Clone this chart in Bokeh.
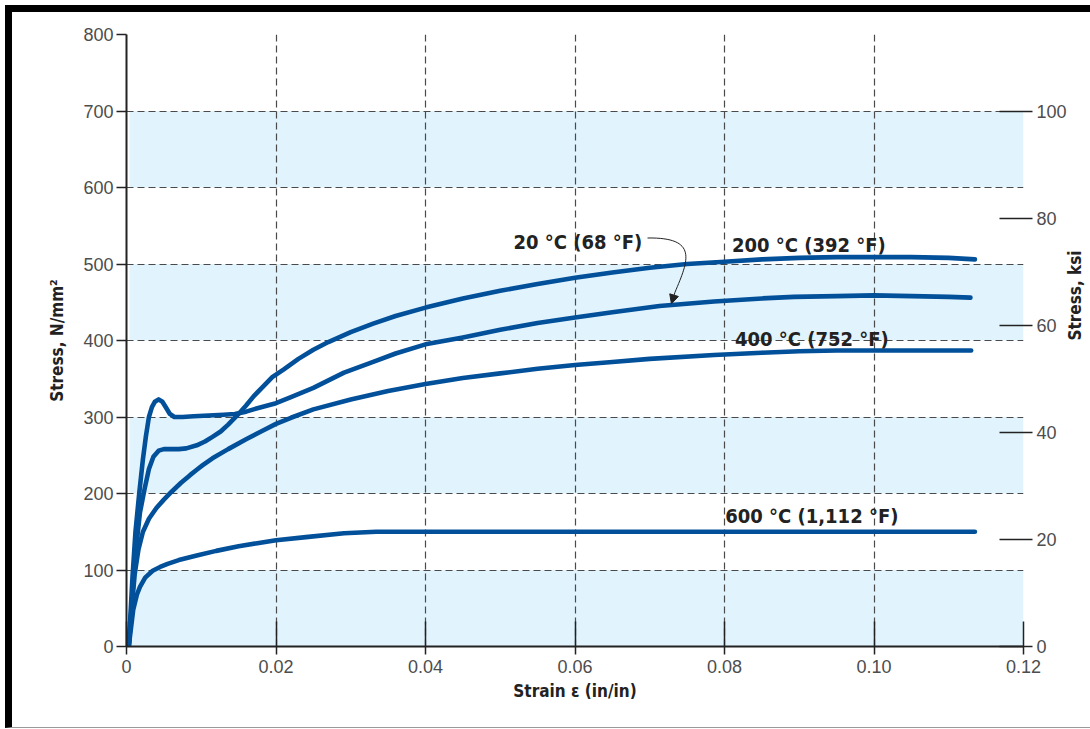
import math
from bokeh.plotting import figure
from bokeh.models import Range1d, LinearAxis, FixedTicker, Label, Arrow, NormalHead
from bokeh.embed import file_html
from bokeh.resources import INLINE

# ---------------- data ----------------
x_ticks = [0, 0.02, 0.04, 0.06, 0.08, 0.10, 0.12]
x_tick_labels = ["0", "0.02", "0.04", "0.06", "0.08", "0.10", "0.12"]
y_ticks = [0, 100, 200, 300, 400, 500, 600, 700, 800]
ksi_ticks = [0, 20, 40, 60, 80, 100]
ksi_top = 114.3          # right axis value at the top of the frame (800 N/mm2)

band_bottoms = [0, 200, 400, 600]
band_tops = [100, 300, 500, 700]

strain_20 = [0.0003, 0.0008, 0.0012, 0.0017, 0.0022, 0.0026, 0.0030, 0.0034, 0.0038, 0.0043,
             0.0048, 0.0053, 0.0058, 0.0064, 0.0075, 0.0090, 0.0110, 0.0130, 0.0145, 0.0160,
             0.0170, 0.0185, 0.0200, 0.0220, 0.0250, 0.0291, 0.0330, 0.0360, 0.0400, 0.0450,
             0.0500, 0.0550, 0.0600, 0.0650, 0.0713, 0.0786, 0.0850, 0.0893, 0.0950, 0.1000,
             0.1050, 0.1100, 0.1129]
stress_20 = [0, 90, 150, 200, 245, 275, 300, 313, 320, 323,
             320, 312, 304, 300, 300, 301, 302, 303, 304, 307,
             310, 314, 318, 326, 338, 358, 372, 383, 395, 404,
             414, 423, 430, 437, 445, 451, 455, 457, 458, 459,
             458, 457, 456]

strain_200 = [0.0003, 0.0008, 0.0013, 0.0018, 0.0024, 0.0030, 0.0036, 0.0043, 0.0050, 0.0060,
              0.0070, 0.0080, 0.0094, 0.0105, 0.0115, 0.0126, 0.0136, 0.0149, 0.0160, 0.0170,
              0.0183, 0.0195, 0.0210, 0.0230, 0.0250, 0.0270, 0.0300, 0.0330, 0.0360, 0.0400,
              0.0450, 0.0500, 0.0550, 0.0600, 0.0650, 0.0700, 0.0750, 0.0800, 0.0850, 0.0900,
              0.0950, 0.1000, 0.1050, 0.1100, 0.1135]
stress_200 = [0, 70, 130, 175, 205, 232, 248, 256, 258, 258,
              258, 259, 263, 268, 274, 281, 290, 303, 315, 327,
              340, 352, 362, 376, 388, 398, 411, 422, 432, 443,
              455, 465, 474, 482, 489, 495, 500, 503, 506, 508,
              509, 509, 509, 508, 506]

strain_400 = [0.0003, 0.0007, 0.0011, 0.0016, 0.0022, 0.0030, 0.0040, 0.0050, 0.0060, 0.0073,
              0.0085, 0.0094, 0.0102, 0.0115, 0.0136, 0.0160, 0.0180, 0.0200, 0.0220, 0.0250,
              0.0300, 0.0350, 0.0400, 0.0450, 0.0500, 0.0550, 0.0600, 0.0650, 0.0700, 0.0786,
              0.0850, 0.0900, 0.0950, 0.1000, 0.1050, 0.1100, 0.1130]
stress_400 = [0, 50, 95, 127, 150, 167, 181, 192, 202, 214,
              224, 231, 237, 246, 258, 271, 281, 291, 299, 310,
              323, 334, 343, 351, 357, 363, 368, 372, 376, 381,
              384, 386, 387, 387, 387, 387, 387]

strain_600 = [0.0003, 0.0009, 0.0014, 0.0018, 0.0025, 0.0035, 0.0045, 0.0055, 0.0070, 0.0094,
              0.0120, 0.0150, 0.0175, 0.0200, 0.0240, 0.0291, 0.0334, 0.0400, 0.0600, 0.0800,
              0.1000, 0.1135]
stress_600 = [0, 48, 68, 78, 90, 99, 104, 108, 113, 119,
              125, 131, 135, 139, 143, 148, 150, 150, 150, 150,
              150, 150]

# ---------------- styles ----------------
CURVE = "#02509a"
BAND = "#e1f3fd"
GRID = "#4a4a4a"
BOLD_FONT = "Liberation Sans Narrow, DejaVu Sans Condensed, sans-serif"
TICK_FONT = "Liberation Sans, Arial, sans-serif"

p = figure(width=1078, height=715,
           x_range=Range1d(0, 0.12), y_range=Range1d(0, 800),
           output_backend="svg", toolbar_location=None,
           min_border_left=114, min_border_right=69,
           min_border_top=22, min_border_bottom=89)
p.outline_line_color = None
p.background_fill_color = "white"
p.border_fill_color = "white"
p.styles = {"border-left": "7px solid black", "border-top": "7px solid black",
            "border-bottom": "1px solid #9a9a9a", "margin": "5px 0 0 5px",
            "box-sizing": "content-box"}

# light blue bands
bands = p.quad(left=0.0004, right=0.12, bottom=band_bottoms, top=band_tops,
               fill_color=BAND, line_color=None)
bands.level = "image"

# grid
p.xgrid.ticker = FixedTicker(ticks=x_ticks)
p.ygrid.ticker = FixedTicker(ticks=y_ticks)
for g in (p.xgrid, p.ygrid):
    g.grid_line_color = GRID
    g.grid_line_dash = "7 4"
    g.grid_line_width = 1.2

# axes
p.xaxis.ticker = FixedTicker(ticks=x_ticks)
p.xaxis.major_label_overrides = {t: s for t, s in zip(x_ticks, x_tick_labels)}
p.yaxis.ticker = FixedTicker(ticks=y_ticks)
p.xaxis.axis_label = "Strain \u03b5 (in/in)"
p.yaxis.axis_label = "Stress, N/mm\u00b2"

ksi_axis = LinearAxis(y_range_name="ksi", ticker=FixedTicker(ticks=ksi_ticks),
                      axis_label="Stress, ksi")
p.extra_y_ranges = {"ksi": Range1d(0, ksi_top)}
p.add_layout(ksi_axis, "right")

for ax in (p.xaxis[0], p.yaxis[0], ksi_axis):
    ax.major_label_text_font = TICK_FONT
    ax.major_label_text_font_size = "18px"
    ax.major_label_text_color = "#4d4d4d"
    ax.minor_tick_line_color = None
    ax.major_tick_line_color = "#222222"
    ax.major_tick_line_width = 1.5
    ax.axis_label_text_font = BOLD_FONT
    ax.axis_label_text_font_style = "bold"
    ax.axis_label_text_font_size = "17px"
    ax.axis_label_text_color = "#222222"

xa = p.xaxis[0]
xa.axis_line_width = 2
xa.axis_line_color = "#222222"
xa.major_tick_in = 25
xa.major_tick_out = 8
xa.major_label_standoff = 5
xa.axis_label_standoff = 5

ya = p.yaxis[0]
ya.axis_line_width = 2
ya.axis_line_color = "#222222"
ya.major_tick_in = 0
ya.major_tick_out = 10
ya.major_label_standoff = 3
ya.axis_label_standoff = 13

ksi_axis.axis_line_color = None
ksi_axis.major_tick_in = 24
ksi_axis.major_tick_out = 9
ksi_axis.major_label_standoff = 4
ksi_axis.axis_label_standoff = 5
ksi_axis.axis_label_orientation = math.pi / 2

# curves
for xs, ys in ((strain_600, stress_600), (strain_400, stress_400),
               (strain_20, stress_20), (strain_200, stress_200)):
    p.line(xs, ys, line_color=CURVE, line_width=4.6, line_cap="round", line_join="round")

# labels
def add_label(x, y, text, align="left"):
    p.add_layout(Label(x=x, y=y, text=text, text_font=BOLD_FONT, text_font_style="bold",
                       text_font_size="20px", text_color="#222222",
                       text_baseline="middle", text_align=align))

add_label(0.0690, 529, "20 \u00b0C (68 \u00b0F)", align="right")
add_label(0.0810, 525, "200 \u00b0C (392 \u00b0F)")
add_label(0.0814, 402, "400 \u00b0C (752 \u00b0F)")
add_label(0.0801, 171, "600 \u00b0C (1,112 \u00b0F)")

# arrow from the 20 C label to its curve
p.bezier(x0=[0.0697], y0=[534], x1=[0.07337], y1=[463],
         cx0=[0.0765], cy0=[535], cx1=[0.0752], cy1=[505],
         line_color="#222222", line_width=1)
p.add_layout(Arrow(end=NormalHead(size=9, fill_color="#222222", line_color="#222222"),
                   x_start=0.07337, y_start=463, x_end=0.0729, y_end=448,
                   line_color="#222222", line_width=1))

open("out.html", "w").write(file_html(p, INLINE))
